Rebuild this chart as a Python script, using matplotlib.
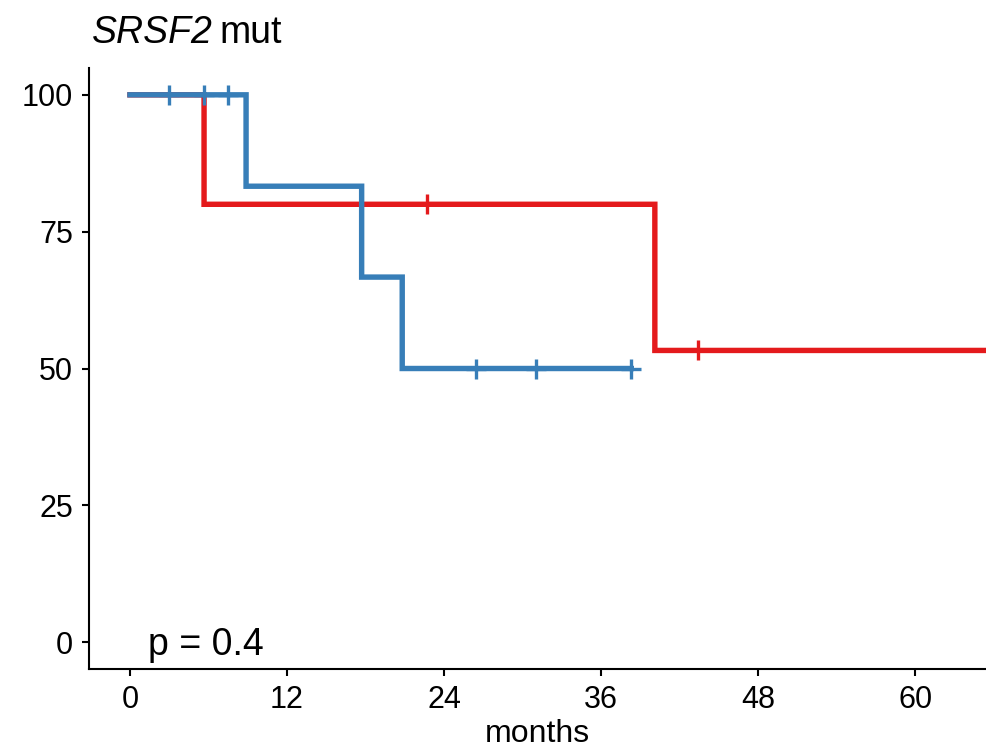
import matplotlib
matplotlib.use("Agg")
import matplotlib.pyplot as plt

plt.rcParams['font.family'] = ['Liberation Sans', 'DejaVu Sans']

# Kaplan-Meier curves (months, survival %)
red_times = [0, 5.66, 40.1, 66.0]
red_surv = [100, 80, 53.3, 53.3]
red_cens_t = [22.7, 43.4]
red_cens_s = [80, 53.3]

blue_times = [0, 8.87, 17.7, 20.8, 38.3]
blue_surv = [100, 83.3, 66.7, 50, 50]
blue_cens_t = [3.0, 5.66, 7.5, 26.4, 31.0, 38.3]
blue_cens_s = [100, 100, 100, 50, 50, 50]

x_ticks = [0, 12, 24, 36, 48, 60]
y_ticks = [0, 25, 50, 75, 100]

RED = '#E41A1C'
BLUE = '#377EB8'

fig = plt.figure(figsize=(9.86, 7.53), dpi=100)
ax = fig.add_axes([89/986, 1 - 669/753, 1 - 89/986, (669 - 68)/753])

ax.step(red_times, red_surv, where='post', color=RED, lw=3.9, solid_joinstyle='miter',
        snap=False, zorder=2)
ax.plot(red_cens_t, red_cens_s, ls='none', marker='+', ms=14, mew=2.4, color=RED, zorder=2)
ax.step(blue_times, blue_surv, where='post', color=BLUE, lw=3.9, solid_joinstyle='miter',
        snap=False, zorder=3)
ax.plot(blue_cens_t, blue_cens_s, ls='none', marker='+', ms=14, mew=2.4, color=BLUE, zorder=3)

ax.set_xlim(-3.13, 65.4)
ax.set_ylim(-4.9, 104.9)
ax.set_xticks(x_ticks)
ax.set_yticks(y_ticks)

for s in ['top', 'right']:
    ax.spines[s].set_visible(False)
for s in ['left', 'bottom']:
    ax.spines[s].set_linewidth(1.5)
ax.tick_params(axis='both', labelsize=22, width=1.5, length=5, color='black')
ax.tick_params(axis='x', pad=6.5)
ax.tick_params(axis='y', pad=6.5)

ax.set_xlabel('months', fontsize=23, labelpad=3)

ax.text(1.38, -2.4, 'p = 0.4', fontsize=27, va='baseline', ha='left')

# title: italic gene name followed by plain text
t1 = fig.text(92/986, 1 - 43/753, 'SRSF2', fontsize=27, style='italic', va='baseline')
fig.canvas.draw()
bb = t1.get_window_extent()
fig.text((bb.x1 + 7)/986, 1 - 43/753, 'mut', fontsize=27, va='baseline')

fig.savefig('out.png', dpi=100)
